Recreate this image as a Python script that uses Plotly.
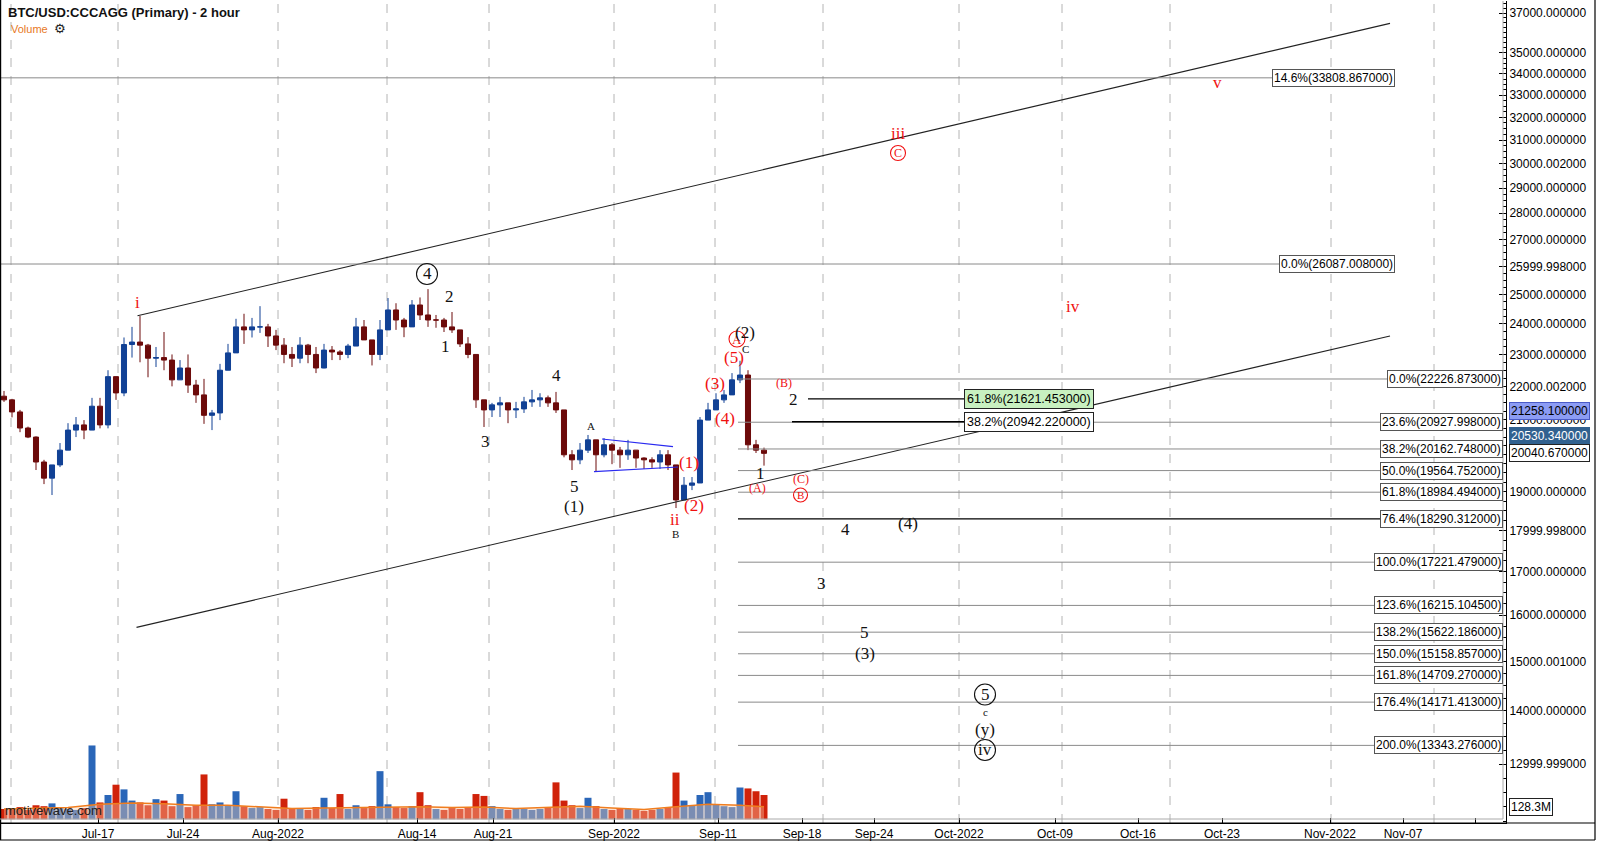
import math
import plotly.graph_objects as go

# ---------------- data ----------------
title_text = "BTC/USD:CCCAGG (Primary) - 2 hour"

candle_open_first = 21700
candle_high = [21860, 21620, 21290, 20800, 20520, 19860, 19720, 20330, 20900, 21080,
               20990, 21650, 21650, 22500, 22300, 23550, 23900, 24265, 23340, 23240,
               23730, 23000, 22820, 23000, 22200, 22230, 21290, 22700, 23340, 24170,
               24340, 24200, 24600, 24000, 23800, 23530, 23240, 23560, 23340, 23240,
               23340, 23270, 23140, 23340, 24200, 24130, 23470, 24130, 24880, 24700,
               24200, 24810, 24900, 25190, 24300, 24200, 24400, 23800, 23560, 23000,
               21590, 21500, 21680, 21500, 21530, 21680, 21890, 21790, 21720, 21830,
               21290, 20130, 20330, 20560, 20420, 20470, 20330, 20220, 20420, 20130,
               19930, 19930, 20130, 20130, 19720, 19390, 19390, 21080, 21500, 21790,
               21890, 22410, 22800, 22500, 20420, 20200]
candle_low = [21530, 21070, 20640, 20470, 19580, 19200, 18910, 19660, 20130, 20500,
              20440, 20700, 20750, 20750, 21590, 21700, 22900, 22750, 22280, 22600,
              22500, 22000, 22200, 21800, 21500, 20880, 20700, 20990, 22500, 23050,
              23340, 23550, 23700, 23240, 23140, 22720, 22600, 22720, 22720, 22410,
              22560, 22820, 22820, 22880, 23270, 23470, 22650, 22820, 23800, 23800,
              23560, 23900, 24130, 23900, 23870, 23730, 23700, 23240, 22880, 21350,
              20790, 21080, 21080, 20900, 21050, 21200, 21380, 21380, 21380, 21200,
              19930, 19580, 19740, 20050, 19530, 19930, 19740, 19640, 19860, 19640,
              19610, 19640, 19610, 19580, 18570, 18780, 19040, 19230, 20990, 21290,
              21500, 21740, 22100, 20130, 20050, 19700]
candle_close = [21590, 21230, 20760, 20500, 19800, 19360, 19720, 20130, 20700, 20850,
                20700, 21400, 20850, 22300, 21800, 23320, 23400, 23300, 22880, 22900,
                22820, 22200, 22570, 22040, 21740, 21130, 21200, 22500, 23050, 23900,
                23800, 23900, 23900, 23600, 23300, 23000, 22880, 23300, 23000, 22570,
                23140, 23080, 23000, 23270, 23900, 23470, 23000, 23800, 24470, 24130,
                23900, 24640, 24300, 24130, 24130, 23900, 23800, 23340, 23000, 21590,
                21290, 21440, 21500, 21290, 21320, 21530, 21590, 21650, 21500, 21290,
                20000, 19860, 20130, 20420, 20000, 20280, 20130, 20000, 20130, 19910,
                19860, 19800, 20000, 19720, 18780, 19170, 19230, 20990, 21290, 21590,
                21740, 22200, 22350, 20280, 20130, 20040]
volume_m = [110, 120, 130, 100, 150, 140, 170, 120, 110, 100,
            120, 790, 180, 260, 370, 320, 200, 180, 150, 215,
            200, 140, 270, 130, 150, 480, 160, 180, 150, 300,
            140, 120, 130, 110, 100, 220, 110, 120, 100, 130,
            230, 120, 270, 110, 150, 120, 140, 515, 160, 130,
            120, 140, 290, 150, 110, 100, 120, 110, 130, 270,
            250, 140, 110, 100, 120, 110, 100, 110, 130, 395,
            200, 150, 120, 230, 140, 110, 100, 120, 110, 100,
            90, 100, 110, 130, 500, 200, 150, 260, 290, 160,
            140, 130, 340, 330, 300, 260]
volume_ma_idx = [0, 4, 8, 12, 16, 20, 24, 28, 32, 36, 40, 44, 48, 52, 56, 60,
                 64, 68, 72, 76, 80, 84, 88, 92, 95]
volume_ma_m = [110, 120, 125, 160, 175, 165, 150, 150, 130, 115, 120, 125, 135,
               135, 125, 130, 115, 125, 140, 120, 105, 135, 160, 150, 135]

tick_bars = [98, 183, 278, 417, 493, 614, 718, 802, 874, 959, 1055, 1138, 1222,
             1330, 1403, 1475]
tick_labels = ["Jul-17", "Jul-24", "Aug-2022", "Aug-14", "Aug-21", "Sep-2022",
               "Sep-11", "Sep-18", "Sep-24", "Oct-2022", "Oct-09", "Oct-16",
               "Oct-23", "Nov-2022", "Nov-07", ""]
grid_bars = [11, 118, 278, 387, 489, 614, 715, 823, 959, 1062, 1170, 1331, 1434]

price_ticks = [37000, 35000, 34000, 33000, 32000, 31000, 30000, 29000, 28000,
               27000, 26000, 25000, 24000, 23000, 22000, 21000, 20000, 19000,
               18000, 17000, 16000, 15000, 14000, 13000]
price_tick_labels = ["37000.000000", "35000.000000", "34000.000000", "33000.000000",
                     "32000.000000", "31000.000000", "30000.002000", "29000.000000",
                     "28000.000000", "27000.000000", "25999.998000", "25000.000000",
                     "24000.000000", "23000.000000", "22000.002000", "21000.000000",
                     "20000.000000", "19000.000000", "17999.998000", "17000.000000",
                     "16000.000000", "15000.001000", "14000.000000", "12999.999000"]

fib_right_pct = ["0.0%", "23.6%", "38.2%", "50.0%", "61.8%", "76.4%", "100.0%",
                 "123.6%", "138.2%", "150.0%", "161.8%", "176.4%", "200.0%"]
fib_right_val = [22226.873, 20927.998, 20162.748, 19564.752, 18984.494, 18290.312,
                 17221.479, 16215.1045, 15622.186, 15158.857, 14709.27, 14171.413,
                 13343.276]
fib_upper_pct = ["0.0%", "14.6%"]
fib_upper_val = [26087.008, 33808.867]
fib_mid_pct = ["61.8%", "38.2%"]
fib_mid_val = [21621.453, 20942.22]

channel_upper = [(137.5, 24275), (1390, 36474)]
channel_lower = [(136.5, 15727), (1390, 23599)]
triangle_top = [(602, 20445), (673, 20227)]
triangle_bottom = [(594, 19535), (678, 19663)]

last_price_markers = [(21258.1, "21258.100000"), (20530.34, "20530.340000"),
                      (20040.67, "20040.670000")]
volume_marker = (128.3, "128.3M")

RED = "#f01010"
BLK = "#111111"
# (text, bar, price, colour, size, circle diameter)
wave_labels = [
    ("i", 137.5, 24726, RED, 17, 0), ("ii", 675, 18264, RED, 17, 0),
    ("iii", 898, 31266, RED, 17, 0), ("C", 898, 30449, RED, 12, 15),
    ("iv", 1073, 24588, RED, 17, 0), ("v", 1217, 33591, RED, 17, 0),
    ("(1)", 688.5, 19773, RED, 17, 0), ("(2)", 693.5, 18649, RED, 17, 0),
    ("(3)", 715, 22103, RED, 17, 0), ("(4)", 725, 21034, RED, 17, 0),
    ("(5)", 734, 22902, RED, 17, 0), ("A", 737, 23500, RED, 13, 16),
    ("(B)", 784, 22103, RED, 12, 0), ("(A)", 757, 19096, RED, 12, 0),
    ("(C)", 800.5, 19345, RED, 12, 0), ("B", 800.5, 18911, RED, 11, 14),
    ("4", 427, 25727, BLK, 17, 21), ("2", 449, 24950, BLK, 17, 0),
    ("1", 445, 23240, BLK, 17, 0), ("3", 485, 20360, BLK, 17, 0),
    ("4", 556, 22320, BLK, 17, 0), ("5", 574, 19123, BLK, 17, 0),
    ("(1)", 574, 18598, BLK, 17, 0), ("A", 591, 20819, BLK, 11, 0),
    ("B", 675, 17911, BLK, 11, 0), ("(2)", 744.5, 23698, BLK, 17, 0),
    ("C", 745.5, 23175, BLK, 11, 0), ("1", 760, 19483, BLK, 17, 0),
    ("2", 793, 21616, BLK, 17, 0), ("4", 845, 18022, BLK, 17, 0),
    ("(4)", 907.5, 18175, BLK, 17, 0), ("3", 821, 16716, BLK, 17, 0),
    ("5", 864.7, 15615, BLK, 17, 0), ("(3)", 864.7, 15155, BLK, 17, 0),
    ("5", 985, 14322, BLK, 17, 21), ("c", 985, 13979, BLK, 11, 0),
    ("(y)", 985, 13651, BLK, 17, 0), ("iv", 985, 13258, BLK, 17, 21),
]

# ---------------- layout constants ----------------
W, H = 1597, 841
ML, MR, MT, MB = 0, 91, 1, 18
PW, PH = W - ML - MR, H - MT - MB
BAR_STEP = 8
SANS = "Liberation Sans, Arial, Helvetica, sans-serif"
SERIF = "Liberation Serif, Times New Roman, serif"
Y_RANGE = [4.07831, 4.57551]


def px_to_paper_x(px):
    return (px - ML) / PW


def px_to_paper_y(py):
    return (H - MB - py) / PH


xs = [4 + BAR_STEP * i for i in range(len(candle_close))]
opens = [candle_open_first] + candle_close[:-1]

fig = go.Figure()


def add_line(pts, color, width=1, dash=None):
    fig.add_trace(go.Scatter(x=[p[0] for p in pts], y=[p[1] for p in pts], mode="lines",
                             line=dict(color=color, width=width, dash=dash),
                             hoverinfo="skip", showlegend=False))


add_line(channel_upper, "#222222", 1.1)
add_line(channel_lower, "#222222", 1.1)

for pct, val in zip(fib_right_pct, fib_right_val):
    col = "#000000" if pct == "76.4%" else "#8a8a8a"
    add_line([(738, val), (1500, val)], col, 1.3 if pct == "76.4%" else 1)
for val in fib_upper_val:
    add_line([(0, val), (1390, val)], "#8a8a8a", 1)
add_line([(808, fib_mid_val[0]), (966, fib_mid_val[0])], "#000000", 1.3)
add_line([(792, fib_mid_val[1]), (966, fib_mid_val[1])], "#000000", 1.3)

add_line(triangle_top, "#2a2af0", 1.2)
add_line(triangle_bottom, "#2a2af0", 1.2)

fig.add_trace(go.Candlestick(
    x=xs, open=opens, high=candle_high, low=candle_low, close=candle_close,
    increasing=dict(line=dict(color="#114195", width=1), fillcolor="#114195"),
    decreasing=dict(line=dict(color="#6c0a0a", width=1), fillcolor="#6c0a0a"),
    whiskerwidth=0, showlegend=False, hoverinfo="skip"))

for text, bx, price, col, size, circ in wave_labels:
    if circ:
        fig.add_trace(go.Scatter(x=[bx], y=[price], mode="markers",
                                 marker=dict(symbol="circle-open", size=circ,
                                             color=col, line=dict(width=1.1, color=col)),
                                 hoverinfo="skip", showlegend=False))

vol_colors = ["#2a66b8" if c >= o else "#d0220a" for o, c in zip(opens, candle_close)]
fig.add_trace(go.Bar(x=xs, y=volume_m, yaxis="y2", width=BAR_STEP - 1,
                     marker=dict(color=vol_colors, line=dict(width=0)),
                     hoverinfo="skip", showlegend=False))
fig.add_trace(go.Scatter(x=[xs[i] for i in volume_ma_idx], y=volume_ma_m, yaxis="y2",
                         mode="lines", line=dict(color="#f07d1e", width=1.5),
                         fill="tozeroy", fillcolor="rgba(252,205,170,0.38)",
                         hoverinfo="skip", showlegend=False))

annotations = []
for text, bx, price, col, size, circ in wave_labels:
    annotations.append(dict(x=bx, y=math.log10(price), xref="x", yref="y", text=text,
                            showarrow=False, font=dict(family=SERIF, size=size, color=col),
                            xanchor="center", yanchor="middle"))


def fib_text(p, v):
    return "%s(%.6f)" % (p, v)


for pct, val in zip(fib_right_pct, fib_right_val):
    annotations.append(dict(x=1503, y=math.log10(val), xref="x", yref="y",
                            text=fib_text(pct, val), showarrow=False, xanchor="right",
                            yanchor="middle", bgcolor="white", bordercolor="#555555",
                            borderwidth=1, borderpad=1,
                            font=dict(family=SANS, size=12, color="black")))
for pct, val in zip(fib_upper_pct, fib_upper_val):
    annotations.append(dict(x=1395, y=math.log10(val), xref="x", yref="y",
                            text=fib_text(pct, val), showarrow=False, xanchor="right",
                            yanchor="middle", bgcolor="white", bordercolor="#555555",
                            borderwidth=1, borderpad=1,
                            font=dict(family=SANS, size=12, color="black")))
for pct, val, bg in zip(fib_mid_pct, fib_mid_val, ["#c8f0c0", "white"]):
    annotations.append(dict(x=964, y=math.log10(val), xref="x", yref="y",
                            text=fib_text(pct, val), showarrow=False, xanchor="left",
                            yanchor="middle", bgcolor=bg, bordercolor="#222222",
                            borderwidth=1, borderpad=2,
                            font=dict(family=SANS, size=12.5, color="black")))

marker_styles = [("#8c9cf4", "#4a5bc8", "black"), ("#31618f", "#31618f", "white"),
                 ("white", "#222222", "black")]
for (val, txt), (bg, bc, fc) in zip(last_price_markers, marker_styles):
    annotations.append(dict(x=px_to_paper_x(1509), y=math.log10(val), xref="paper",
                            yref="y", text=txt, showarrow=False, xanchor="left",
                            yanchor="middle", bgcolor=bg, bordercolor=bc, borderwidth=1,
                            borderpad=1, font=dict(family=SANS, size=12, color=fc)))
annotations.append(dict(x=px_to_paper_x(1509), y=volume_marker[0], xref="paper",
                        yref="y2", text=volume_marker[1], showarrow=False,
                        xanchor="left", yanchor="middle", bgcolor="white",
                        bordercolor="#222222", borderwidth=1, borderpad=1,
                        font=dict(family=SANS, size=12, color="black")))

annotations += [
    dict(x=px_to_paper_x(6), y=px_to_paper_y(12), xref="paper", yref="paper",
         text="<b>%s</b>" % title_text, showarrow=False, xanchor="left", yanchor="middle",
         font=dict(family=SANS, size=13, color="#111111")),
    dict(x=px_to_paper_x(9), y=px_to_paper_y(29), xref="paper", yref="paper",
         text="Volume", showarrow=False, xanchor="left", yanchor="middle",
         font=dict(family=SANS, size=11, color="#e8781e")),
    dict(x=px_to_paper_x(52), y=px_to_paper_y(29), xref="paper", yref="paper",
         text="⚙", showarrow=False, xanchor="left", yanchor="middle",
         font=dict(family="DejaVu Sans", size=13, color="#222222")),
    dict(x=px_to_paper_x(3), y=px_to_paper_y(810), xref="paper", yref="paper",
         text="motivewave.com", showarrow=False, xanchor="left", yanchor="middle",
         font=dict(family=SANS, size=13, color="#222222")),
]

shapes = []
for gx in grid_bars:
    shapes.append(dict(type="line", xref="x", yref="paper", x0=gx, x1=gx, y0=0, y1=1,
                       line=dict(color="#b4b4b4", width=1, dash="dash"), layer="below"))
frame = dict(color="#000000", width=1.2)
shapes += [
    dict(type="line", xref="paper", yref="paper", x0=px_to_paper_x(0.6), x1=px_to_paper_x(0.6),
         y0=px_to_paper_y(840), y1=1.01, line=frame),
    dict(type="line", xref="paper", yref="paper", x0=px_to_paper_x(0), x1=px_to_paper_x(1595),
         y0=0, y1=0, line=frame),
    dict(type="line", xref="paper", yref="paper", x0=px_to_paper_x(0), x1=px_to_paper_x(1595),
         y0=px_to_paper_y(840), y1=px_to_paper_y(840), line=frame),
    dict(type="line", xref="paper", yref="paper", x0=px_to_paper_x(1595), x1=px_to_paper_x(1595),
         y0=px_to_paper_y(840), y1=1.01, line=frame),
    dict(type="line", xref="paper", yref="paper", x0=px_to_paper_x(1503), x1=px_to_paper_x(1503),
         y0=px_to_paper_y(819), y1=1, line=dict(color="#aaaaaa", width=1)),
    dict(type="line", xref="paper", yref="paper", x0=0, x1=px_to_paper_x(1503),
         y0=px_to_paper_y(819), y1=px_to_paper_y(819), line=dict(color="#aaaaaa", width=1)),
]

minor_vals = [v for v in range(12000, 37750, 250) if v not in price_ticks]

fig.update_layout(
    width=W, height=H, margin=dict(l=ML, r=MR, t=MT, b=MB, autoexpand=False),
    plot_bgcolor="white", paper_bgcolor="white", showlegend=False,
    boxgap=0.1,
    xaxis=dict(range=[0, PW], tickmode="array", tickvals=tick_bars, ticktext=tick_labels,
               ticks="inside", ticklen=5, tickcolor="black", showgrid=False,
               zeroline=False, showline=True, linecolor="black", linewidth=1,
               tickfont=dict(family=SANS, size=12, color="black"),
               rangeslider=dict(visible=False), automargin=False, fixedrange=True),
    yaxis=dict(type="log", range=Y_RANGE, side="right", tickmode="array",
               tickvals=price_ticks, ticktext=price_tick_labels, ticks="inside",
               ticklen=7, tickcolor="black", showgrid=False, zeroline=False,
               showline=True, linecolor="black", linewidth=1,
               tickfont=dict(family=SANS, size=12, color="black"), automargin=False,
               minor=dict(tickmode="array", tickvals=minor_vals, ticks="inside",
                          ticklen=3, tickcolor="black", showgrid=False)),
    yaxis2=dict(overlaying="y", range=[-40, 8760], visible=False, fixedrange=True),
    annotations=annotations, shapes=shapes,
)

fig.write_html("out.html", config={"displayModeBar": False, "staticPlot": True},
               post_script="document.body.style.margin='0';document.body.style.overflow='hidden';")
